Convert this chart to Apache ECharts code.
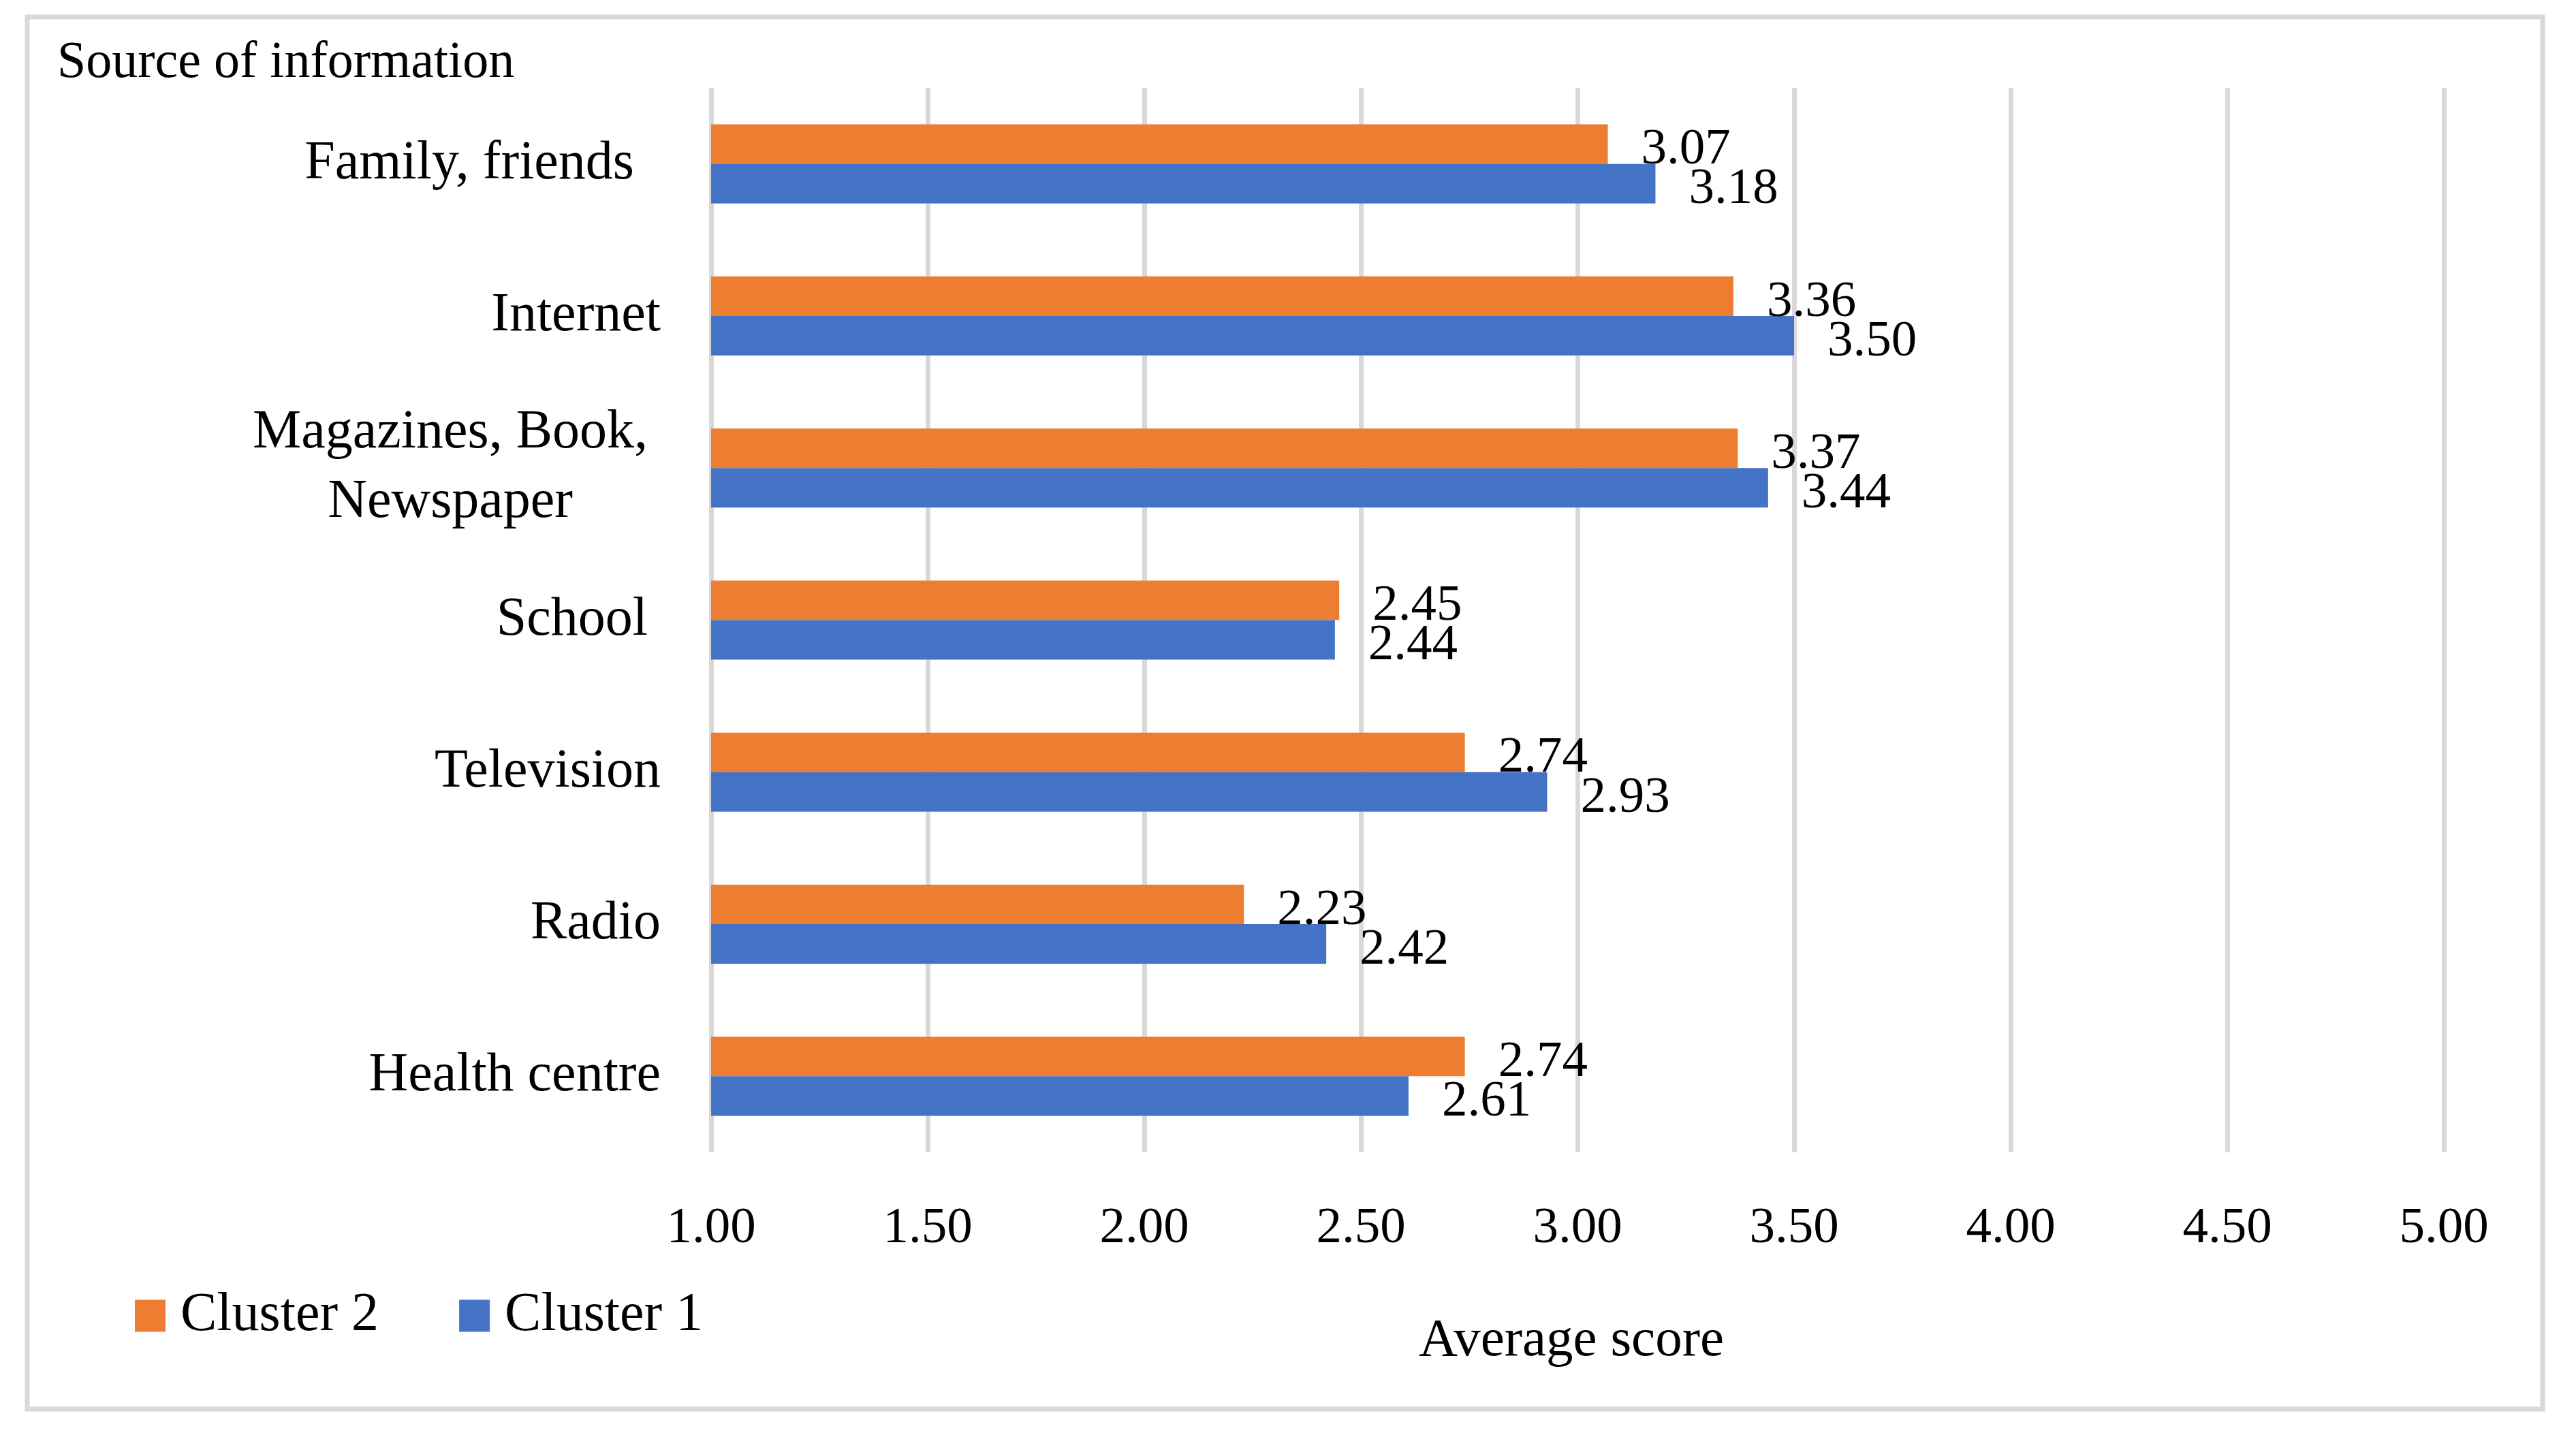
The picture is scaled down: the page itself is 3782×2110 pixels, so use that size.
<!DOCTYPE html>
<html>
<head>
<meta charset="utf-8">
<script src="https://cdn.jsdelivr.net/npm/echarts@6/dist/echarts.min.js"></script>
<style>
html,body{margin:0;padding:0;background:#fff;}
#chart{width:3782px;height:2110px;}
</style>
</head>
<body>
<div id="chart"></div>
<script>
// ---- data ----
var categories = ['Family, friends', 'Internet', 'Magazines, Book,\nNewspaper', 'School', 'Television', 'Radio', 'Health centre'];
var cluster2 = [3.07, 3.36, 3.37, 2.45, 2.74, 2.23, 2.74];
var cluster1 = [3.18, 3.50, 3.44, 2.44, 2.93, 2.42, 2.61];
var seriesNames = ['Cluster 2', 'Cluster 1'];
var xTicks = { min: 1, max: 5, interval: 0.5 };
var titleText = 'Source of information';
var xAxisTitle = 'Average score';

// trailing space after some category labels, as in the original
var labelTrail = { 'Family, friends': 's2', 'School': 's1', 'Magazines, Book,\nNewspaper': 's1' };

var FONT = 'Liberation Serif';
var chart = echarts.init(document.getElementById('chart'));

var option = {
  backgroundColor: '#ffffff',
  animation: false,
  title: {
    text: titleText,
    left: 84,
    top: 55,
    padding: 0,
    textStyle: { fontFamily: FONT, fontSize: 76, fontWeight: 'normal', color: '#000' }
  },
  legend: {
    data: seriesNames,
    left: 198,
    top: 1892,
    padding: 0,
    icon: 'rect',
    itemWidth: 45,
    itemHeight: 47,
    itemGap: 118,
    textStyle: { fontFamily: FONT, fontSize: 80, color: '#000', padding: [0, 0, 0, 17] }
  },
  grid: { left: 1044, right: 194, top: 129, bottom: 418, containLabel: false },
  xAxis: {
    type: 'value',
    min: xTicks.min,
    max: xTicks.max,
    interval: xTicks.interval,
    name: xAxisTitle,
    nameLocation: 'middle',
    nameGap: 238,
    nameTextStyle: { fontFamily: FONT, fontSize: 79, color: '#000', padding: [0, 18, 0, 0] },
    axisLine: { show: false },
    axisTick: { show: false },
    axisLabel: {
      margin: 75,
      fontFamily: FONT, fontSize: 75, color: '#000',
      formatter: function (v) { return v.toFixed(2); }
    },
    splitLine: { show: true, lineStyle: { color: '#d9d9d9', width: 7 } }
  },
  yAxis: {
    type: 'category',
    data: categories,
    inverse: true,
    axisLine: { show: false },
    axisTick: { show: false },
    splitLine: { show: false },
    axisLabel: {
      margin: 74,
      align: 'right',
      fontFamily: FONT, fontSize: 80, color: '#000',
      formatter: function (v) {
        var t = labelTrail[v];
        return v.split('\n').map(function (l) {
          return '{c|' + l + '}' + (t ? '{' + t + '| }' : '');
        }).join('\n');
      },
      rich: {
        c: { fontFamily: FONT, fontSize: 80, color: '#000', align: 'center', lineHeight: 102 },
        s1: { fontFamily: FONT, fontSize: 80, width: 19, lineHeight: 102 },
        s2: { fontFamily: FONT, fontSize: 80, width: 39, lineHeight: 102 }
      }
    }
  },
  series: [
    {
      name: seriesNames[0],
      type: 'bar',
      data: cluster2,
      barGap: '0%',
      barCategoryGap: '48%',
      itemStyle: { color: '#ED7D31' },
      label: {
        show: true, position: 'right', distance: 49, offset: [0, 9],
        fontFamily: FONT, fontSize: 75, color: '#000',
        formatter: function (p) { return p.value.toFixed(2); }
      }
    },
    {
      name: seriesNames[1],
      type: 'bar',
      data: cluster1,
      barGap: '0%',
      barCategoryGap: '48%',
      itemStyle: { color: '#4472C4' },
      label: {
        show: true, position: 'right', distance: 49, offset: [0, 9],
        fontFamily: FONT, fontSize: 75, color: '#000',
        formatter: function (p) { return p.value.toFixed(2); }
      }
    }
  ],
  graphic: [
    {
      type: 'rect',
      shape: { x: 40, y: 25, width: 3693, height: 2044 },
      style: { fill: 'none', stroke: '#d9d9d9', lineWidth: 7 },
      silent: true
    }
  ]
};
chart.setOption(option);
</script>
</body>
</html>
